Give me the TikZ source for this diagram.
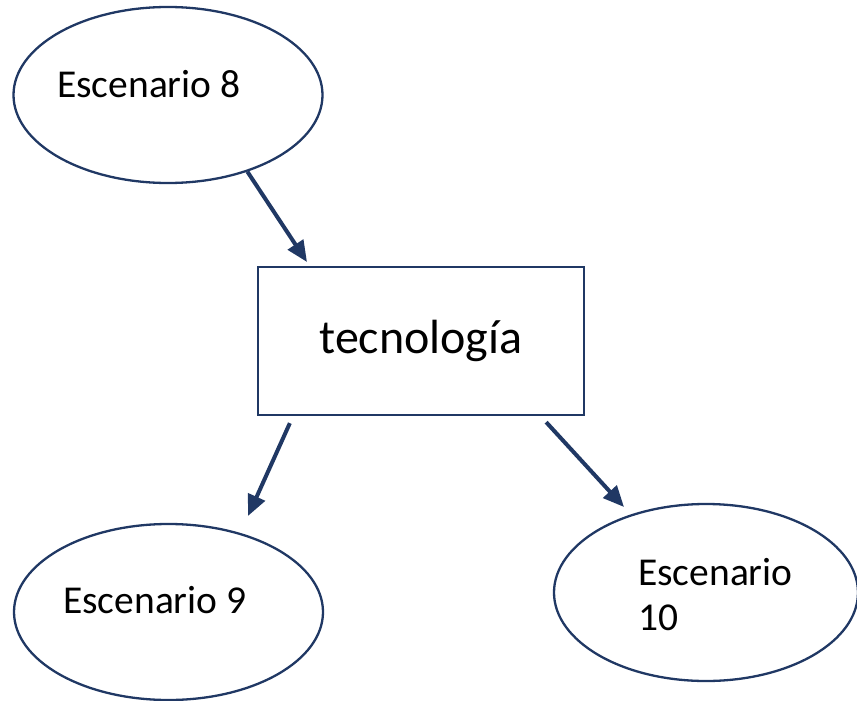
\documentclass[tikz,border=0pt]{standalone}
\usepackage{fontspec}
\setmainfont{Carlito}
\usetikzlibrary{shapes.geometric,arrows.meta,calc}
\definecolor{navy}{HTML}{203864}
\tikzset{
  escena/.style={ellipse, draw=navy, line width=2.3pt, inner sep=0pt},
  caja/.style={rectangle, draw=navy, line width=2.3pt, minimum width=326pt, minimum height=148pt},
  flecha/.style={navy, line width=4pt, -{Triangle[length=21pt,width=18pt]}},
  rotulo/.style={anchor=base west, inner sep=0pt, font=\fontsize{39.5}{45}\selectfont}
}
\begin{document}
\begin{tikzpicture}[x=1pt,y=-1pt]
\useasboundingbox (0,0) rectangle (857,701);
\node[escena, minimum width=309pt, minimum height=176pt] (e8) at (168,95) {};
\node[escena, minimum width=309pt, minimum height=176pt] (e9) at (168.5,612) {};
\node[escena, minimum width=304pt, minimum height=177pt] (e10) at (706,592.5) {};
\node[caja] (tec) at (421,341) {};
	\node[rotulo] (t8) at (57,98) {Escenario 8}; \node[rotulo] (t9) at (63,613) {Escenario 9};
	\node[rotulo, align=left] (t10) at (638,630) {Escenario\\10};
	\node[font=\fontsize{48}{56}\selectfont] (ttec) at (tec.center) {tecnología};
\coordinate (p1) at (307,262); \coordinate (p2) at (248,516); \coordinate (p3) at (624,507);
\draw[flecha] (e8.-44) -- (p1);
\draw[flecha] ($(tec.south west)+(33,7)$) -- (p2);
\draw[flecha] ($(tec.south east)+(-39,6)$) -- (p3);
\end{tikzpicture}
\end{document}
